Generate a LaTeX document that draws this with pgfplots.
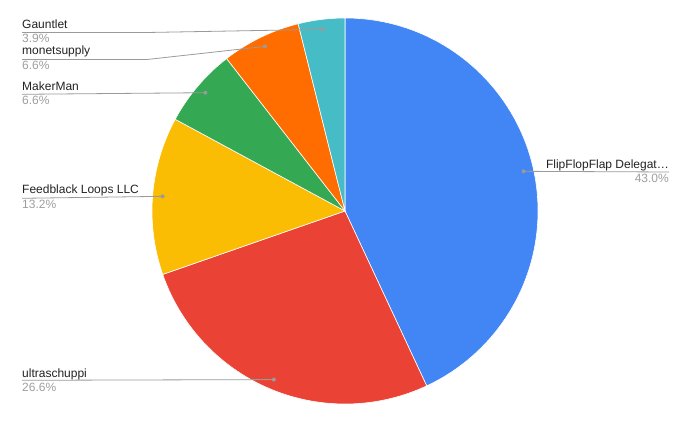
\documentclass[border=0pt]{standalone}
\usepackage{pgfplots}
\pgfplotsset{compat=1.18}
\usepackage{pgfplotstable}
\usepackage{fontspec}
\setmainfont{Liberation Sans}

\definecolor{pieblue}{HTML}{4285F4}
\definecolor{piered}{HTML}{EA4335}
\definecolor{pieyellow}{HTML}{FBBC04}
\definecolor{piegreen}{HTML}{34A853}
\definecolor{pieorange}{HTML}{FF6D01}
\definecolor{pieteal}{HTML}{46BDC6}
\definecolor{labeltext}{HTML}{222222}
\definecolor{pcttext}{HTML}{9E9E9E}
\definecolor{leader}{HTML}{9A9A9A}

% share of each delegate, clockwise from 12 o'clock
\pgfplotstableread[col sep=comma]{
label,value,colour
FlipFlopFlap Delegate,43.0,pieblue
ultraschuppi,26.6,piered
Feedblack Loops LLC,13.2,pieyellow
MakerMan,6.6,piegreen
monetsupply,6.6,pieorange
Gauntlet,3.9,pieteal
}\piedata

\begin{document}
\begin{tikzpicture}
  \pgfplotstablegetrowsof{\piedata}
  \pgfmathtruncatemacro\nrows{\pgfplotsretval-1}
  \def\total{0}
  \pgfplotsforeachungrouped \i in {0,...,\nrows}{%
    \pgfplotstablegetelem{\i}{value}\of\piedata
    \pgfmathsetmacro\total{\total+\pgfplotsretval}%
  }
  \begin{axis}[
      width=690pt, height=425pt,
      scale only axis,
      xmin=0, xmax=690, ymin=0, ymax=425,
      hide axis, clip=false,
      nodes={font=\fontsize{12}{14}\selectfont, inner sep=0pt},
    ]
    \path (axis cs:0,0) rectangle (axis cs:690,425);
    \def\cum{0}
    \pgfplotsforeachungrouped \i in {0,...,\nrows}{%
      \pgfplotstablegetelem{\i}{value}\of\piedata
      \pgfmathsetmacro\sv{\pgfplotsretval}%
      \pgfplotstablegetelem{\i}{colour}\of\piedata
      \let\sc\pgfplotsretval
      \pgfmathsetmacro\sa{90-\cum/\total*360}%
      \pgfmathsetmacro\sb{90-(\cum+\sv)/\total*360}%
      \pgfmathsetmacro\sm{(\sa+\sb)/2}%
      \edef\slice{%
        \noexpand\fill[fill=\sc, draw=white, line width=0.6pt]
          (axis cs:345,214) -- ++(\sa:193pt)
          arc[start angle=\sa, end angle=\sb, radius=193pt] -- cycle;
        \noexpand\coordinate (d\i) at ([shift={(\sm:183pt)}]axis cs:345,214);
      }%
      \slice
      \pgfmathsetmacro\cum{\cum+\sv}%
    }

    % leader lines
    \draw[leader, line width=0.8pt] (d0) -- (axis cs:669,253);
    \draw[leader, line width=0.8pt] (axis cs:22,44.7) -- (d1);
    \draw[leader, line width=0.8pt] (axis cs:22,226.7) -- (d2);
    \draw[leader, line width=0.8pt] (axis cs:22,330.7) -- (d3);
    \draw[leader, line width=0.8pt] (axis cs:22,365.5) -- (axis cs:147,365.5) -- (d4);
    \draw[leader, line width=0.8pt] (axis cs:22,392.5) -- (axis cs:147,392.5) -- (d5);
    \fill[leader] (d0) circle (2pt) (d1) circle (2pt) (d2) circle (2pt)
                  (d3) circle (2pt) (d4) circle (2pt) (d5) circle (2pt);

    % labels
    \node[anchor=base east, labeltext] at (axis cs:669,256.7) {FlipFlopFlap Delegat…};
    \node[anchor=base east, pcttext] at (axis cs:669,242.3) {43.0\%};
    \node[anchor=base west, labeltext] at (axis cs:22,47.7) {ultraschuppi};
    \node[anchor=base west, pcttext] at (axis cs:22,33) {26.6\%};
    \node[anchor=base west, labeltext] at (axis cs:22,231) {Feedblack Loops LLC};
    \node[anchor=base west, pcttext] at (axis cs:22,216) {13.2\%};
    \node[anchor=base west, labeltext] at (axis cs:22,334.3) {MakerMan};
    \node[anchor=base west, pcttext] at (axis cs:22,320) {6.6\%};
    \node[anchor=base west, labeltext] at (axis cs:22,370) {monetsupply};
    \node[anchor=base west, pcttext] at (axis cs:22,355) {6.6\%};
    \node[anchor=base west, labeltext] at (axis cs:22,396) {Gauntlet};
    \node[anchor=base west, pcttext] at (axis cs:22,382) {3.9\%};
  \end{axis}
\end{tikzpicture}
\end{document}
